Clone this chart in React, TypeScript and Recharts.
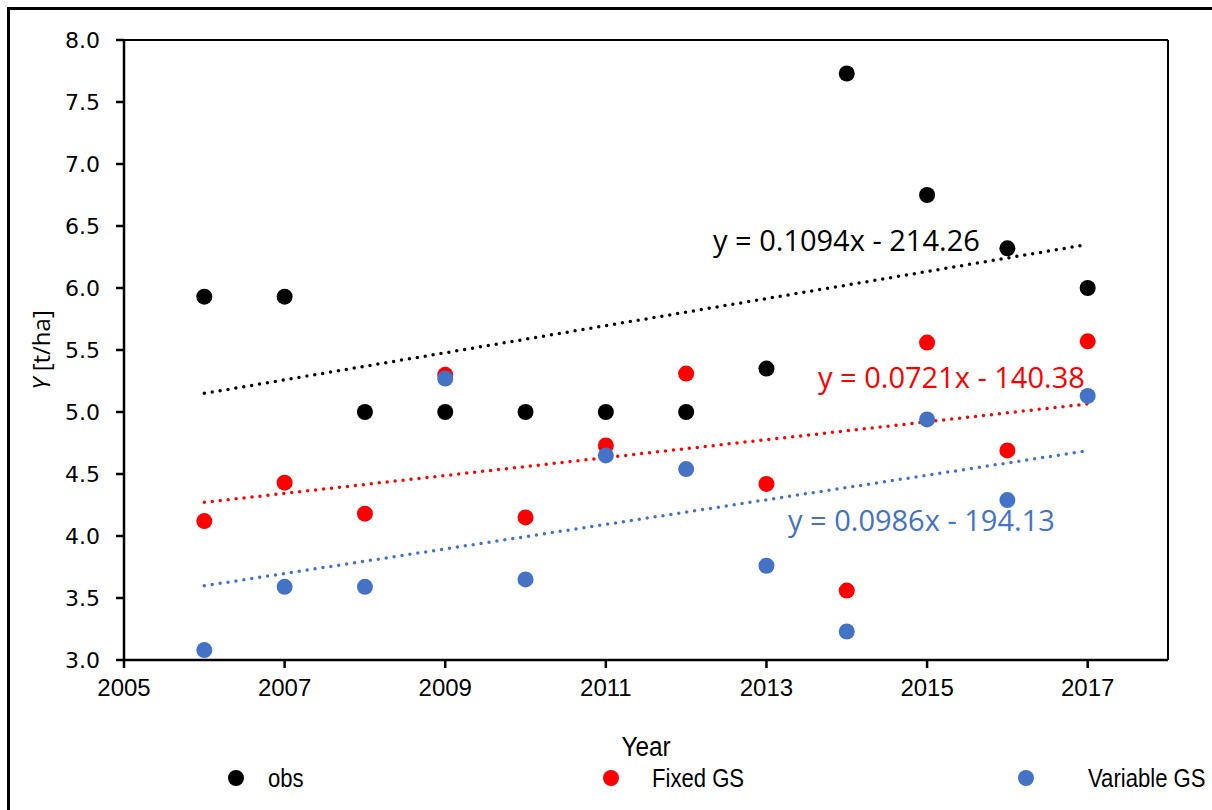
import React from "react"
import { ScatterChart, Scatter, XAxis, YAxis, ReferenceLine } from "recharts"

const years = [2006, 2007, 2008, 2009, 2010, 2011, 2012, 2013, 2014, 2015, 2016, 2017]
const obs = [5.93, 5.93, 5.0, 5.0, 5.0, 5.0, 5.0, 5.35, 7.73, 6.75, 6.32, 6.0]
const fixedGS = [4.12, 4.43, 4.18, 5.3, 4.15, 4.73, 5.31, 4.42, 3.56, 5.56, 4.69, 5.57]
const variableGS = [3.08, 3.59, 3.59, 5.27, 3.65, 4.65, 4.54, 3.76, 3.23, 4.94, 4.29, 5.13]

const xTicks = [2005, 2007, 2009, 2011, 2013, 2015, 2017]
const yTicks = [3.0, 3.5, 4.0, 4.5, 5.0, 5.5, 6.0, 6.5, 7.0, 7.5, 8.0]

const equations = ["y = 0.1094x - 214.26", "y = 0.0721x - 140.38", "y = 0.0986x - 194.13"]

const BLACK = "#000000"
const RED = "#ff0000"
const BLUE = "#4472c4"

const toPoints = (vals: number[]) => years.map((x, i) => ({ x, y: vals[i] }))

// least squares fit, same as the excel trendline
function trend(vals: number[]) {
  const n = years.length
  const mx = years.reduce((a, b) => a + b, 0) / n
  const my = vals.reduce((a, b) => a + b, 0) / n
  let sxy = 0
  let sxx = 0
  years.forEach((x, i) => {
    sxy += (x - mx) * (vals[i] - my)
    sxx += (x - mx) * (x - mx)
  })
  const k = sxy / sxx
  const first = years[0]
  const last = years[n - 1]
  return [
    { x: first, y: my + k * (first - mx) },
    { x: last, y: my + k * (last - mx) },
  ]
}

const dot = (color: string) => (p: any) => <circle cx={p.cx} cy={p.cy} r={8} fill={color} />
const none = () => <g />

const xFont = "'Liberation Sans', sans-serif"
const eqFont = "'Open Sans', 'DejaVu Sans', sans-serif"

export default function App() {
  const series = [
    { name: "obs", vals: obs, color: BLACK },
    { name: "Fixed GS", vals: fixedGS, color: RED },
    { name: "Variable GS", vals: variableGS, color: BLUE },
  ]
  const eqPos = [
    { left: 713, mid: 240 },
    { left: 818, mid: 377 },
    { left: 788, mid: 520 },
  ]

  return (
    <div style={{ position: "absolute", left: 0, top: 0, width: 1212, height: 810, overflow: "hidden", background: "#fff" }}>
      <style>{"body{overflow:hidden}"}</style>
      <div style={{ position: "absolute", left: 7, top: 7, width: 1230, height: 840, border: "3px solid #000" }} />
      <div style={{ position: "absolute", left: 0, top: 0 }}>
        <ScatterChart width={1212} height={810} margin={{ top: 40, right: 44, bottom: 110, left: 44 }}>
          <XAxis
            type="number"
            dataKey="x"
            domain={[2005, 2018]}
            ticks={xTicks}
            allowDataOverflow
            stroke="#000"
            strokeWidth={2.5}
            tickSize={8}
            tickMargin={11}
            height={40}
            tick={{ fill: "#000", fontSize: 24, fontFamily: xFont }}
          />
          <YAxis
            type="number"
            dataKey="y"
            domain={[3, 8]}
            ticks={yTicks}
            allowDataOverflow
            width={80}
            stroke="#000"
            strokeWidth={2.5}
            tickSize={8}
            tickMargin={16}
            tickFormatter={(v: number) => v.toFixed(1)}
            tick={{ fill: "#000", fontSize: 22, fontFamily: "'DejaVu Sans', sans-serif" }}
          />
          <ReferenceLine y={8} stroke="#000" strokeWidth={2} />
          <ReferenceLine x={2018} stroke="#000" strokeWidth={2} />
          {series.map((s) => (
            <Scatter
              key={s.name + "-trend"}
              data={trend(s.vals)}
              line={{ stroke: s.color, strokeWidth: 3.5, strokeDasharray: "0 8", strokeLinecap: "round" }}
              shape={none}
              isAnimationActive={false}
            />
          ))}
          {series.map((s) => (
            <Scatter key={s.name} name={s.name} data={toPoints(s.vals)} shape={dot(s.color)} isAnimationActive={false} />
          ))}
        </ScatterChart>
      </div>

      {series.map((s, i) => (
        <div
          key={s.name + "-eq"}
          style={{
            position: "absolute",
            left: eqPos[i].left,
            top: eqPos[i].mid - 15,
            fontFamily: eqFont,
            fontSize: 29,
            lineHeight: "30px",
            color: s.color,
            whiteSpace: "nowrap",
          }}
        >
          {equations[i]}
        </div>
      ))}

      <div
        style={{
          position: "absolute",
          left: 40,
          top: 350,
          transform: "translate(-50%, -50%) rotate(-90deg)",
          fontFamily: eqFont,
          fontSize: 24,
          whiteSpace: "nowrap",
        }}
      >
        <i>Y</i> [t/ha]
      </div>

      <div style={{ position: "absolute", left: 646, top: 747, transform: "translate(-50%, -50%) scaleX(0.9)", fontFamily: xFont, fontSize: 27, whiteSpace: "nowrap" }}>
        Year
      </div>

      {series.map((s, i) => {
        const dx = [236, 611, 1026][i]
        const tx = [268, 652, 1088][i]
        return (
          <React.Fragment key={s.name + "-legend"}>
            <div style={{ position: "absolute", left: dx - 8, top: 770, width: 16, height: 16, borderRadius: 8, background: s.color }} />
            <div
              style={{
                position: "absolute",
                left: tx,
                top: 778,
                transform: "translateY(-50%) scaleX(0.85)",
                transformOrigin: "left center",
                fontFamily: xFont,
                fontSize: 26,
                whiteSpace: "nowrap",
              }}
            >
              {s.name}
            </div>
          </React.Fragment>
        )
      })}
    </div>
  )
}
